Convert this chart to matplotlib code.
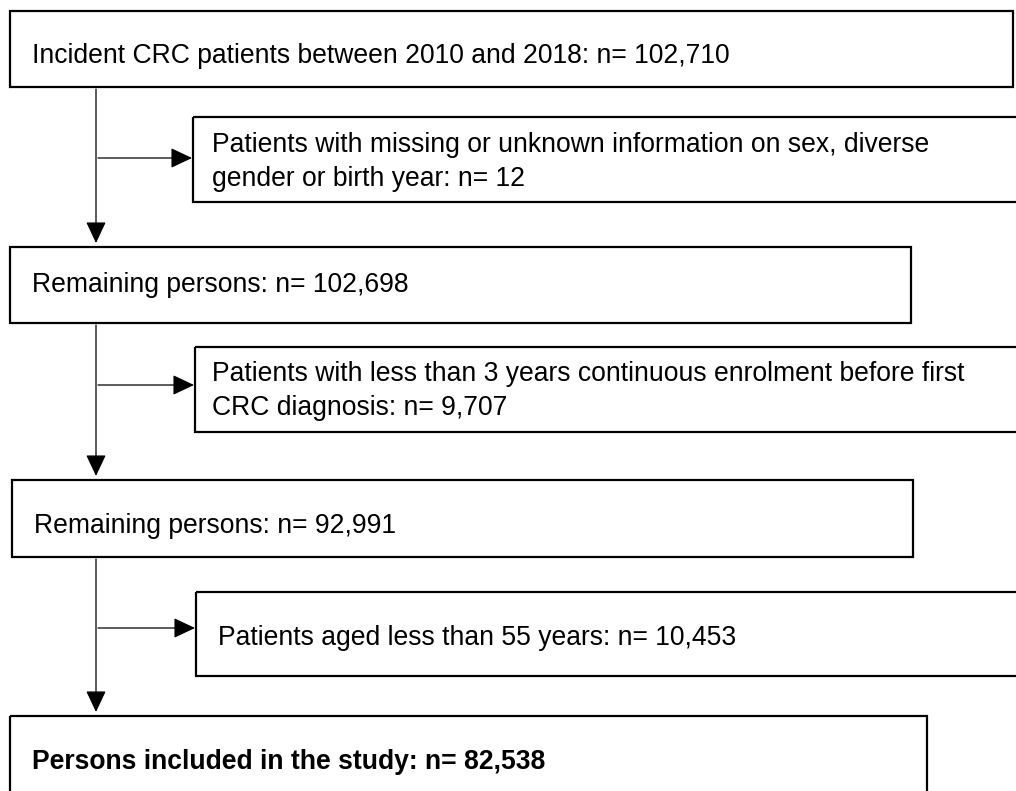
import matplotlib.pyplot as plt
from matplotlib.patches import Rectangle

plt.rcParams['font.family'] = ['Liberation Sans', 'DejaVu Sans']

# box texts, top to bottom
main_labels = [
    "Incident CRC patients between 2010 and 2018: n= 102,710",
    "Remaining persons: n= 102,698",
    "Remaining persons: n= 92,991",
    "Persons included in the study: n= 82,538",
]
excluded_labels = [
    "Patients with missing or unknown information on sex, diverse\ngender or birth year: n= 12",
    "Patients with less than 3 years continuous enrolment before first\nCRC diagnosis: n= 9,707",
    "Patients aged less than 55 years: n= 10,453",
]

# layout in pixel units (x0, y0, x1, y1)
main_boxes = [(10, 11, 1013, 87), (10, 247, 911, 323), (12, 480, 913, 557), (10, 716, 927, 830)]
excl_boxes = [(193, 117, 1030, 202), (195, 347, 1030, 432), (196, 592, 1030, 676)]
main_text_y = [56, 285, 526, 762]
excl_text_x = [212, 212, 218]
excl_text_y = [162, 391, 638]
arrow_y = [158, 385, 628]
line_x = 96

fig = plt.figure(figsize=(10.16, 7.91), dpi=100)
ax = fig.add_axes([0, 0, 1, 1])
ax.set_xlim(0, 1016)
ax.set_ylim(791, 0)
ax.axis('off')

for i, (x0, y0, x1, y1) in enumerate(main_boxes):
    ax.add_patch(Rectangle((x0, y0), x1 - x0, y1 - y0, fill=False, ec='black', lw=1.6))
    ax.text(x0 + 22, main_text_y[i], main_labels[i], fontsize=19.1, va='center', ha='left',
            fontweight='bold' if i == len(main_labels) - 1 else 'normal')

for i, (x0, y0, x1, y1) in enumerate(excl_boxes):
    ax.add_patch(Rectangle((x0, y0), x1 - x0, y1 - y0, fill=False, ec='black', lw=1.6))
    ax.text(excl_text_x[i], excl_text_y[i], excluded_labels[i], fontsize=19.1, va='center', ha='left',
            linespacing=1.42)

arrow_props = dict(arrowstyle='-|>,head_length=0.7,head_width=0.33', mutation_scale=19,
                   color='black', lw=0.9, shrinkA=0, shrinkB=0)
for i in range(3):
    y_start = main_boxes[i][3] + 2
    y_end = main_boxes[i + 1][1] - 4
    ax.annotate('', xy=(line_x, y_end), xytext=(line_x, y_start), arrowprops=arrow_props)
    ax.annotate('', xy=(excl_boxes[i][0] - 1, arrow_y[i]), xytext=(line_x + 2, arrow_y[i]),
                arrowprops=arrow_props)

fig.savefig('out.png', dpi=100)
